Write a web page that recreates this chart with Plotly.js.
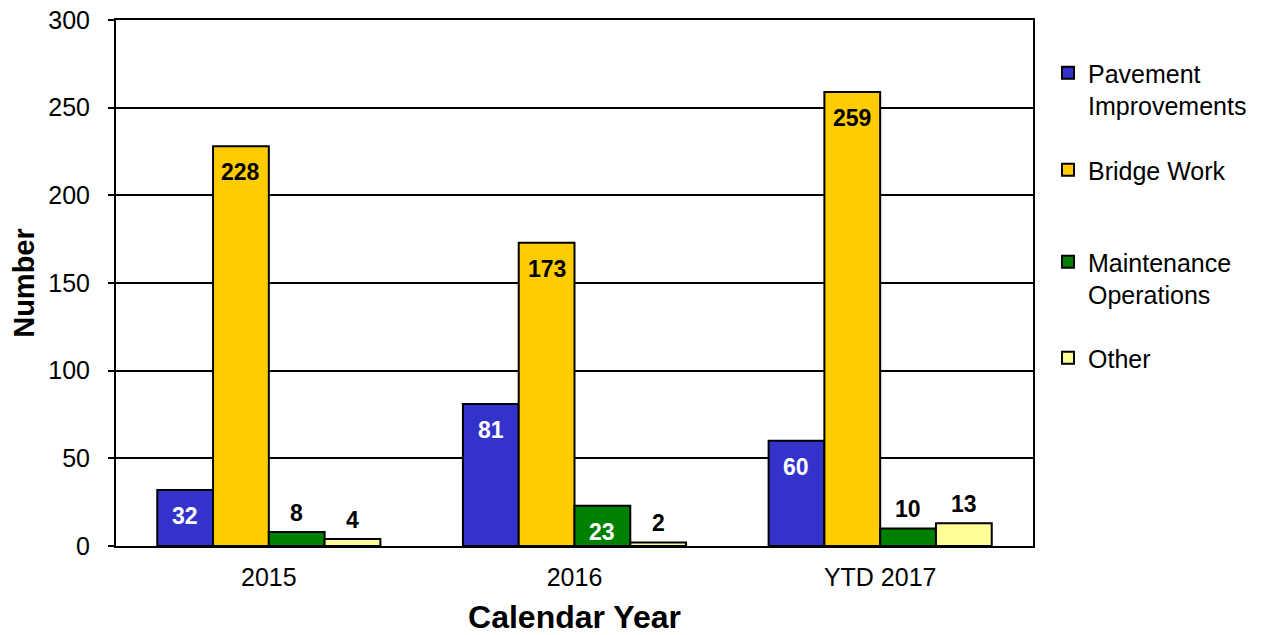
<!DOCTYPE html>
<html>
<head>
<meta charset="utf-8">
<script src="https://cdn.plot.ly/plotly-3.0.1.min.js"></script>
<style>html,body{margin:0;padding:0;background:#fff;}#chart{width:1272px;height:635px;}</style>
</head>
<body>
<div id="chart"></div>
<script>
const categories = ["2015", "2016", "YTD 2017"];
const seriesNames = ["Pavement<br>Improvements", "Bridge Work", "Maintenance<br>Operations", "Other"];
const pavement = [32, 81, 60];
const bridge = [228, 173, 259];
const maintenance = [8, 23, 10];
const other = [4, 2, 13];
const yTicks = [0, 50, 100, 150, 200, 250, 300];

const allSeries = [pavement, bridge, maintenance, other];
const colors = ["#3333CC", "#FFCC00", "#008000", "#FFFF99"];
const insideColors = ["#ffffff", "#000000", "#ffffff", "#000000"];
const legendIds = ["legend", "legend2", "legend3", "legend4"];
const legendCenters = [89, 170, 278, 358];

const W = 1272, H = 635;
const margin = {l: 116, r: 239, t: 20, b: 89};
const bargap = 0.27;
const plotW = W - margin.l - margin.r;
const barPx = plotW / categories.length * (1 - bargap) / allSeries.length;

const FONT = "Liberation Sans, Arial, sans-serif";

const traces = allSeries.map((vals, i) => ({
  type: "bar",
  name: seriesNames[i],
  x: categories,
  y: vals,
  marker: {color: colors[i], line: {color: "#000", width: 2}},
  legend: legendIds[i],
  hoverinfo: "skip"
}));

const annotations = [];
allSeries.forEach((vals, i) => {
  vals.forEach((v, j) => {
    const inside = v >= 20;
    annotations.push({
      x: j, y: v, xref: "x", yref: "y",
      text: "<b>" + v + "</b>", showarrow: false,
      xshift: (i - (allSeries.length - 1) / 2) * barPx,
      yshift: inside ? -26 : 19,
      yanchor: "middle",
      font: {family: FONT, size: 23, color: inside ? insideColors[i] : "#000"}
    });
  });
});

const layout = {
  width: W, height: H,
  margin: margin,
  paper_bgcolor: "#fff", plot_bgcolor: "#fff",
  barmode: "group", bargap: bargap, bargroupgap: 0,
  font: {family: FONT, size: 25, color: "#000"},
  xaxis: {
    type: "category", range: [-0.5, categories.length - 0.5], autorange: false,
    showline: true, mirror: true, linecolor: "#000", linewidth: 2,
    ticks: "", tickfont: {family: FONT, size: 25},
    ticklabelstandoff: 8,
    title: {text: "<b>Calendar Year</b>", font: {family: FONT, size: 32}, standoff: 17},
    automargin: false,
    fixedrange: true
  },
  yaxis: {
    range: [0, 300], autorange: false, tickvals: yTicks, ticktext: yTicks.map(String),
    showline: true, mirror: true, linecolor: "#000", linewidth: 2,
    showgrid: true, gridcolor: "#000", gridwidth: 2, zeroline: false,
    ticks: "outside", ticklen: 6, tickwidth: 2, tickcolor: "#000",
    ticklabelstandoff: 13,
    tickfont: {family: FONT, size: 25},
    title: {text: "<b>Number</b>", font: {family: FONT, size: 29}, standoff: 5},
    automargin: false,
    fixedrange: true
  },
  annotations: annotations,
  showlegend: true
};

legendIds.forEach((id, i) => {
  layout[id] = {
    xref: "container", yref: "container",
    x: 1048 / W, y: 1 - legendCenters[i] / H,
    xanchor: "left", yanchor: "middle",
    valign: "top",
    bgcolor: "rgba(0,0,0,0)", borderwidth: 0,
    font: {family: FONT, size: 25, color: "#000"}
  };
});

Plotly.newPlot("chart", traces, layout, {displayModeBar: false, staticPlot: true});
</script>
</body>
</html>
